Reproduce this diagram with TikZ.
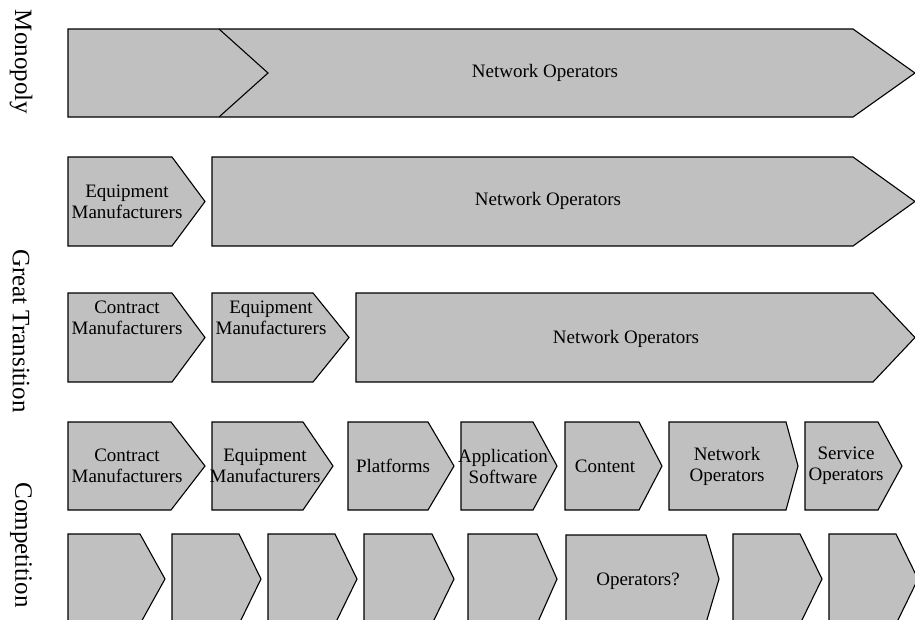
\documentclass[tikz,border=0pt]{standalone}
\usepackage{fontspec}
\setmainfont{Liberation Serif}
\definecolor{boxgray}{RGB}{192,192,192}
\newcommand\Chev[5]{\draw[chev] (#1,#4) -- (#2,#4) -- (#3,{(#4+#5)/2}) -- (#2,#5) -- (#1,#5) -- cycle;}
\begin{document}
\begin{tikzpicture}[x=1pt,y=-1pt,
  chev/.style={fill=boxgray, draw=black, line width=1.1pt, line join=miter},
  lbl/.style={font=\fontsize{19}{21}\selectfont, align=center, inner sep=0pt, text=black},
  era/.style={font=\fontsize{25}{27}\selectfont, rotate=-90, inner sep=0pt}]
\useasboundingbox (0,0) rectangle (915,619);
\clip (0,0) rectangle (915,619);
% Row 1
\Chev{68}{853}{915}{29}{117}
\draw[line width=1.1pt] (219,29) -- (268,73) -- (219,117);
% Row 2
\Chev{68}{172}{205}{157}{246}
\Chev{212}{853}{915}{157}{246}
% Row 3
\Chev{68}{172}{205}{293}{382}
\Chev{212}{313}{349}{293}{382}
\Chev{356}{873}{915}{293}{382}
% Row 4
\Chev{68}{171}{205}{422}{510}
\Chev{212}{303}{333}{422}{510}
\Chev{348}{428}{454}{422}{510}
\Chev{461}{533}{557}{422}{510}
\Chev{565}{639}{662}{422}{510}
\Chev{669}{786}{798}{422}{510}
\Chev{805}{878}{902}{422}{510}
% Row 5
\Chev{68}{140}{165}{534}{624}
\Chev{172}{239}{261}{534}{624}
\Chev{268}{335}{357}{534}{624}
\Chev{364}{432}{454}{534}{624}
\Chev{468}{537}{557}{534}{624}
\Chev{566}{706}{719}{535}{623}
\Chev{733}{800}{822}{534}{624}
\Chev{829}{896}{918}{534}{624}
% Texts
\node[lbl] (r1no) at (545,73) {Network Operators};
\node[lbl] (r2em) at (127,202) {Equipment\\Manufacturers};
\node[lbl] (r2no) at (548,201) {Network Operators};
\node[lbl] (r3cm) at (127,318) {Contract\\Manufacturers};
\node[lbl] (r3em) at (271,318) {Equipment\\Manufacturers};
\node[lbl] (r3no) at (626,339) {Network Operators};
\node[lbl] (r4cm) at (127,466) {Contract\\Manufacturers};
\node[lbl] (r4em) at (265,466) {Equipment\\Manufacturers};
\node[lbl] (r4pf) at (393,466) {Platforms};
\node[lbl] (r4as) at (503,466) {Application\\Software};
\node[lbl] (r4ct) at (605,466) {Content};
\node[lbl] (r4no) at (727,466) {Network\\Operators};
\node[lbl] (r4so) at (846,466) {Service\\Operators};
\node[lbl] (r5op) at (638,581) {Operators?};
% Era labels
\node[era] (mono) at (21,62) {Monopoly};
\node[era] (great) at (21,331) {Great Transition};
\node[era] (comp) at (21,545) {Competition};
\end{tikzpicture}
\end{document}
